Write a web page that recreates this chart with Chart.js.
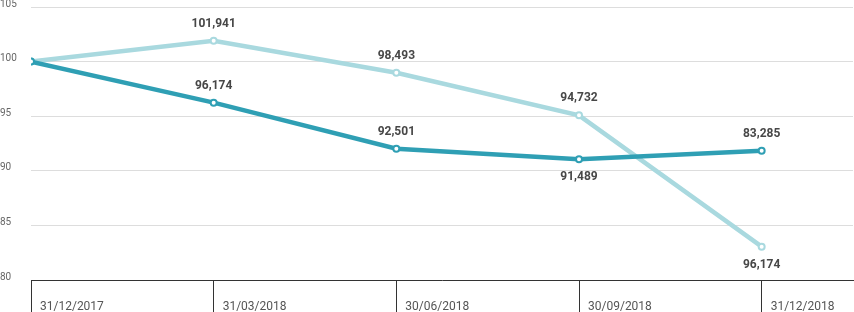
<!DOCTYPE html>
<html>
<head>
<meta charset="utf-8">
<script src="https://cdn.jsdelivr.net/npm/chart.js@4/dist/chart.umd.min.js"></script>
<style>
  html, body { margin: 0; padding: 0; background: #fff; }
  #wrap { width: 854px; height: 312px; position: relative; }
</style>
</head>
<body>
<div id="wrap"><canvas id="graph"></canvas></div>
<script>
// données
const dates = ['31/12/2017', '31/03/2018', '30/06/2018', '30/09/2018', '31/12/2018'];
const serieClaire = [100, 101.91, 98.98, 95.08, 83.05];
const serieFoncee = [100, 96.24, 92.02, 91.05, 91.84];
const etiquettesClaire = ['', '101,941', '98,493', '94,732', '96,174'];
const etiquettesFoncee = ['', '96,174', '92,501', '91,489', '83,285'];
const yTicks = [80, 85, 90, 95, 100, 105];

// étiquettes au-dessus / en-dessous des points
const placeClaire = ['up', 'up', 'up', 'up', 'down'];
const placeFoncee = ['up', 'up', 'up', 'down', 'up'];

const toPoints = arr => arr.map((v, i) => ({ x: i, y: v }));

// plugin pour dessiner les valeurs
const valeurs = {
  id: 'valeurs',
  afterDatasetsDraw(chart) {
    const ctx = chart.ctx;
    ctx.save();
    ctx.font = 'bold 12px Roboto';
    ctx.fillStyle = '#474747';
    ctx.textAlign = 'center';
    ctx.textBaseline = 'middle';
    chart.data.datasets.forEach((ds, di) => {
      const meta = chart.getDatasetMeta(di);
      meta.data.forEach((pt, i) => {
        const txt = ds.etiquettes[i];
        if (!txt) return;
        const dy = ds.place[i] === 'up' ? -17 : 18;
        ctx.fillText(txt, pt.x, pt.y + dy);
      });
    });
    ctx.restore();
  }
};

new Chart(document.getElementById('graph'), {
  type: 'line',
  data: {
    datasets: [
      {
        label: 'Foncée',
        data: toPoints(serieFoncee),
        etiquettes: etiquettesFoncee,
        place: placeFoncee,
        borderColor: '#2f9fb4',
        borderWidth: 4.5,
        pointRadius: 3,
        pointBorderWidth: 2,
        pointBackgroundColor: '#fff',
        pointBorderColor: '#2f9fb4',
        tension: 0,
      },
      {
        label: 'Claire',
        data: toPoints(serieClaire),
        etiquettes: etiquettesClaire,
        place: placeClaire,
        borderColor: '#a9d9df',
        borderWidth: 4.5,
        pointRadius: 3,
        pointBorderWidth: 2,
        pointBackgroundColor: '#fff',
        pointBorderColor: '#a9d9df',
        tension: 0,
      },
    ],
  },
  options: {
    responsive: true,
    maintainAspectRatio: false,
    animation: false,
    layout: { autoPadding: false, padding: { top: 7, right: 1, left: 0, bottom: 0 } },
    plugins: { legend: { display: false }, tooltip: { enabled: false } },
    scales: {
      x: {
        type: 'linear',
        min: 0,
        max: 4.5,
        afterBuildTicks: axis => { axis.ticks = dates.map((d, i) => ({ value: i })); },
        afterFit: axis => { axis.height = 32; axis.paddingLeft = 0; axis.paddingRight = 0; },
        ticks: {
          callback: (v, i) => dates[i],
          align: 'start',
          labelOffset: 9,
          padding: -12,
          maxRotation: 0,
          autoSkip: false,
          color: '#555',
          font: { family: 'Roboto', size: 12 },
        },
        grid: {
          drawOnChartArea: false,
          drawTicks: true,
          tickLength: 32,
          color: '#333',
          lineWidth: 1,
        },
        border: { display: true, color: '#333', width: 1 },
      },
      y: {
        min: 80,
        max: 105,
        afterBuildTicks: axis => { axis.ticks = yTicks.map(v => ({ value: v })); },
        afterFit: axis => { axis.width = 31; },
        ticks: {
          crossAlign: 'far',
          labelOffset: -3,
          padding: 0,
          color: '#666',
          font: { family: 'Roboto', size: 10 },
        },
        grid: { drawTicks: false, color: '#dddddd', lineWidth: 1 },
        border: { display: false },
      },
    },
  },
  plugins: [valeurs],
});
</script>
</body>
</html>
